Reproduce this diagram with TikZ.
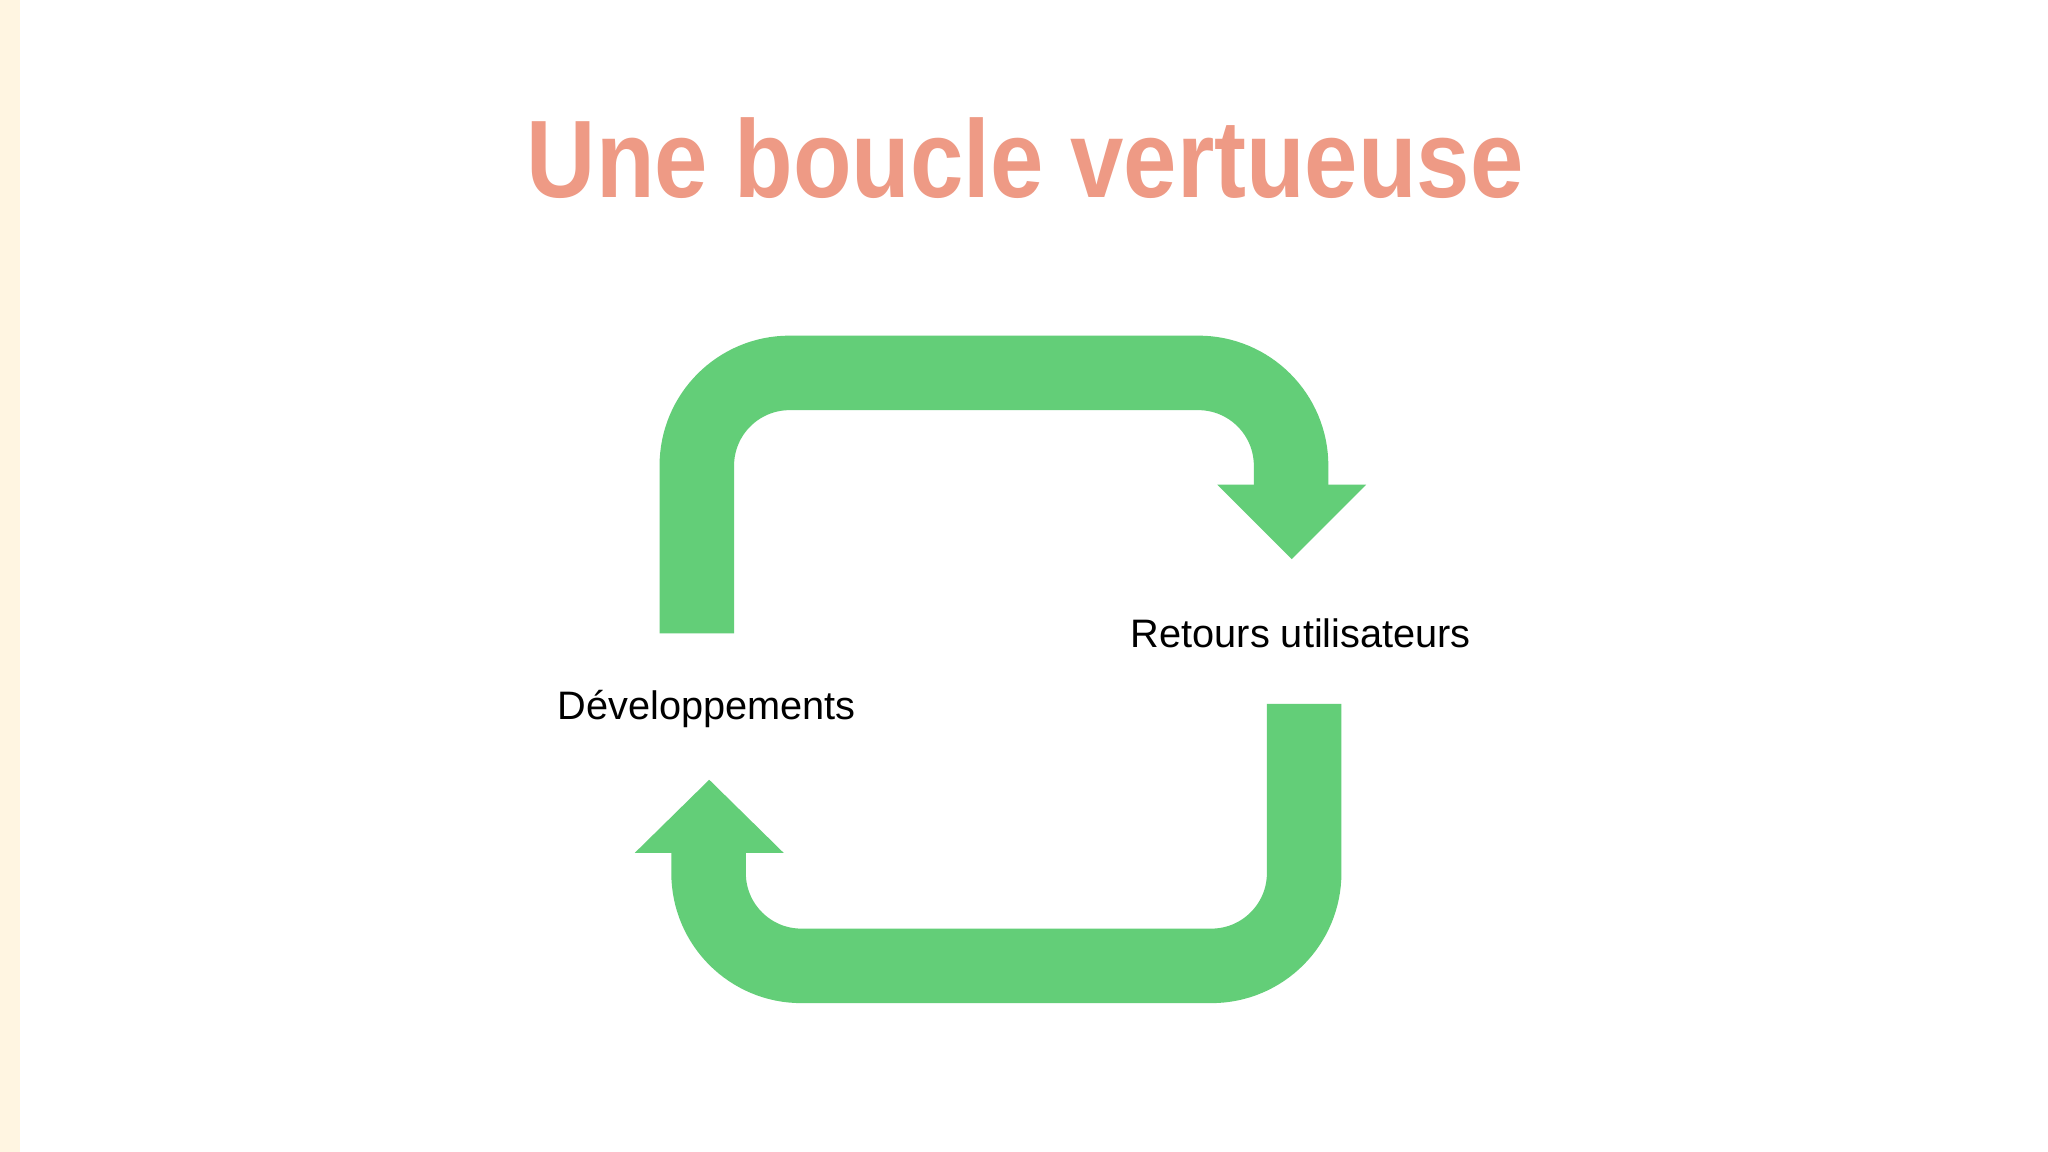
\documentclass[tikz,border=0pt]{standalone}
\usepackage{fontspec}
\setmainfont{Liberation Sans}
\definecolor{cream}{HTML}{FFF5E1}
\definecolor{salmon}{HTML}{EE9A85}
\definecolor{grn}{HTML}{63CE78}
\begin{document}
\begin{tikzpicture}[x=0.01cm,y=-0.01cm,
  band/.style={draw=grn,line width=0.57cm,rounded corners=0.71cm},
  head/.style={fill=grn},
  lbl/.style={font=\fontsize{8.65pt}{10pt}\selectfont,text=black}]
\useasboundingbox (0,0) rectangle (1568,882);
\fill[white] (0,0) rectangle (1568,882);
\fill[cream] (0,0) rectangle (15,882);
\node[font=\fontsize{24pt}{28pt}\selectfont\bfseries,text=salmon,xscale=0.87] (title) at (785,121) {Une boucle vertueuse};
% top arrow
\draw[band] (533.5,485) -- (533.5,285.5) -- (988.5,285.5) -- (988.5,372);
\fill[head] (932,371) -- (1046,371) -- (989,428) -- cycle;
% bottom arrow
\draw[band] (998.5,539) -- (998.5,739.5) -- (542.5,739.5) -- (542.5,652);
\fill[head] (486,653) -- (600,653) -- (543,597) -- cycle;
\node[lbl] (retours) at (996,485) {Retours utilisateurs};
\node[lbl] (dev) at (541,543) {Développements};
\end{tikzpicture}
\end{document}
